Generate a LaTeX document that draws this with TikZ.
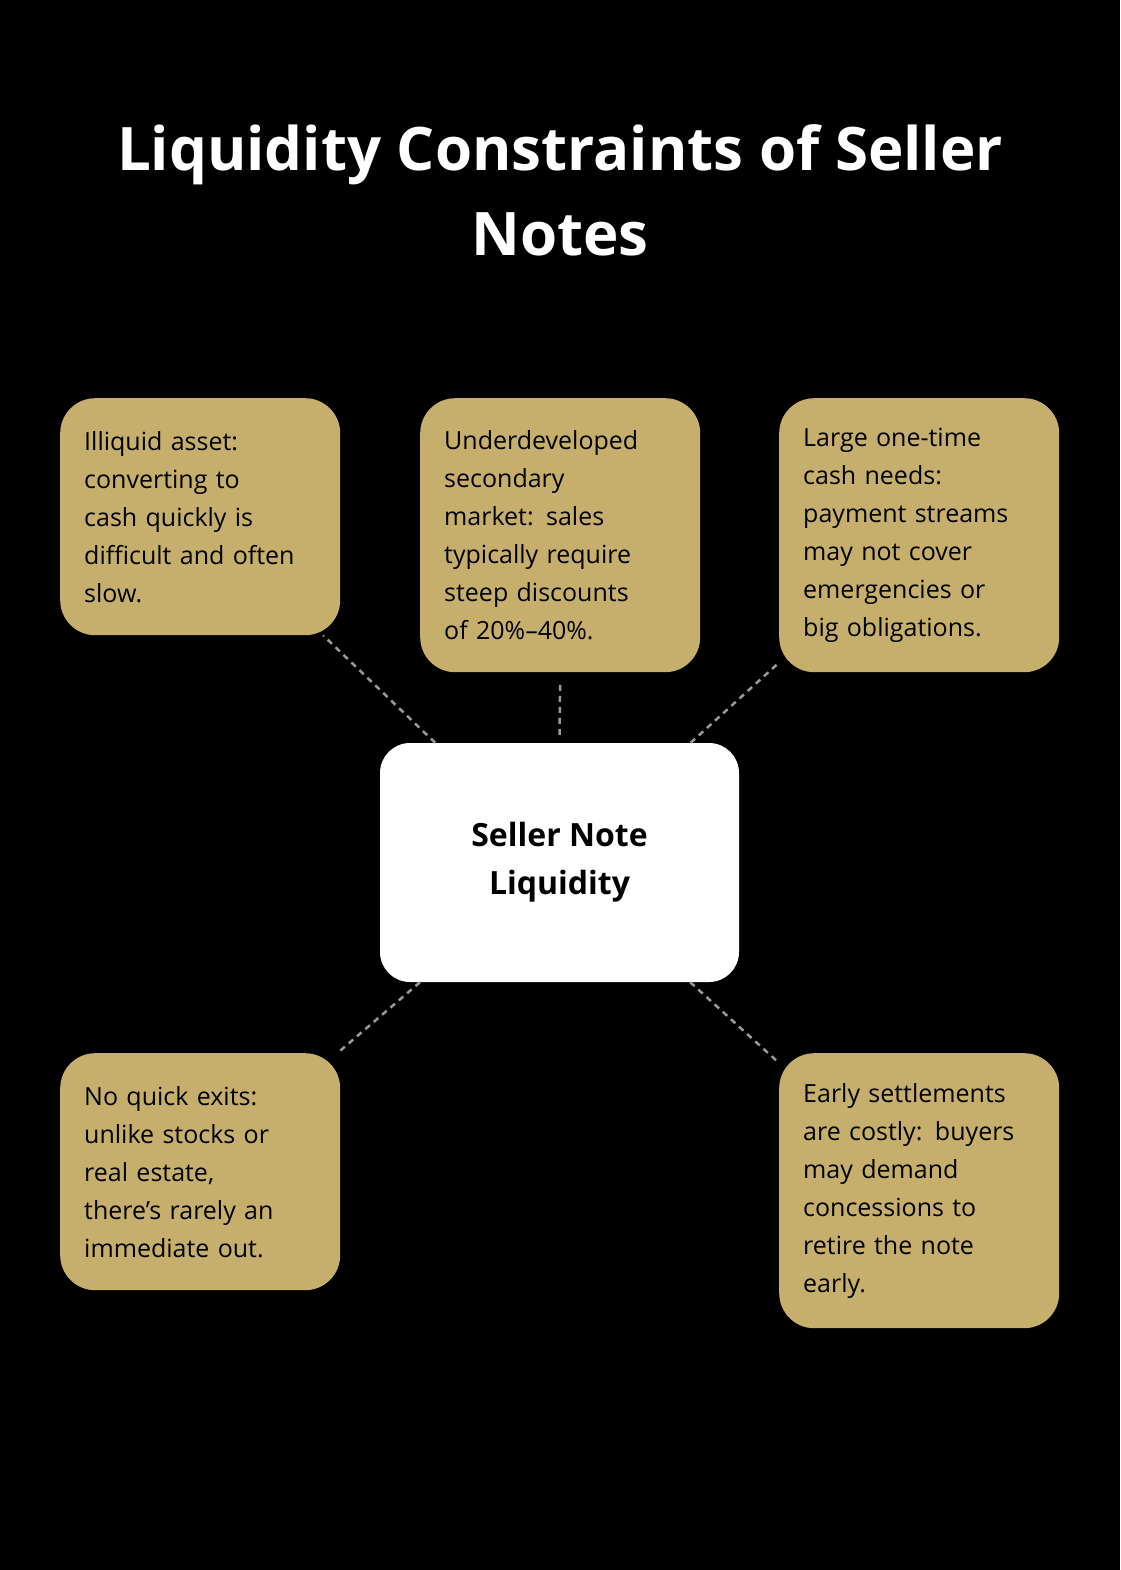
\documentclass[tikz,border=0pt]{standalone}
\usepackage{fontspec}
\setmainfont{Open Sans}
\definecolor{gold}{HTML}{C6AF6C}
\begin{document}
\begin{tikzpicture}[x=1pt,y=-1pt,
 card/.style={fill=gold,rounded corners=35pt,text width=232pt,inner sep=24pt,align=left,
   font=\fontsize{25}{38}\selectfont,text=black,anchor=north west,minimum width=280pt},
 link/.style={draw=gray!80,dashed,line width=2.5pt,dash pattern=on 6pt off 5pt}]
\fill[black] (0,0) rectangle (1120,1570);
\useasboundingbox (0,0) rectangle (1120,1570);
\node[text=white,font=\bfseries\fontsize{60}{85}\selectfont,align=center] (title) at (560,190) {Liquidity Constraints of Seller\\Notes};
\node[card,minimum height=237pt] (tl) at (60,398) {Illiquid asset:\\converting to\\cash quickly is\\difficult and often\\slow.};
\node[card,minimum height=274pt] (tc) at (420,398) {Underdeveloped\\secondary\\market: sales\\typically require\\steep discounts\\of 20\%–40\%.};
\node[card,minimum height=274pt] (tr) at (779,398) {Large one-time\\cash needs:\\payment streams\\may not cover\\emergencies or\\big obligations.};
\node[card,minimum height=237pt] (bl) at (60,1053) {No quick exits:\\unlike stocks or\\real estate,\\there’s rarely an\\immediate out.};
\node[card,minimum height=275pt] (br) at (779,1053) {Early settlements\\are costly: buyers\\may demand\\concessions to\\retire the note\\early.};
\node[fill=white,rounded corners=30pt,minimum width=359pt,minimum height=239pt,align=center,
  font=\bfseries\fontsize{32}{48}\selectfont] (c) at (559.5,862.5) {Seller Note\\Liquidity};
\draw[link] (c) -- (tl);
\draw[link] (c.north) ++(0,-8) coordinate (cn) (tc.south) ++(0,8) coordinate (ts);
\draw[link] (cn) -- (ts);
\draw[link] (c) -- (tr);
\draw[link] (c) -- (bl);
\draw[link] (c) -- (br);
\end{tikzpicture}
\end{document}
